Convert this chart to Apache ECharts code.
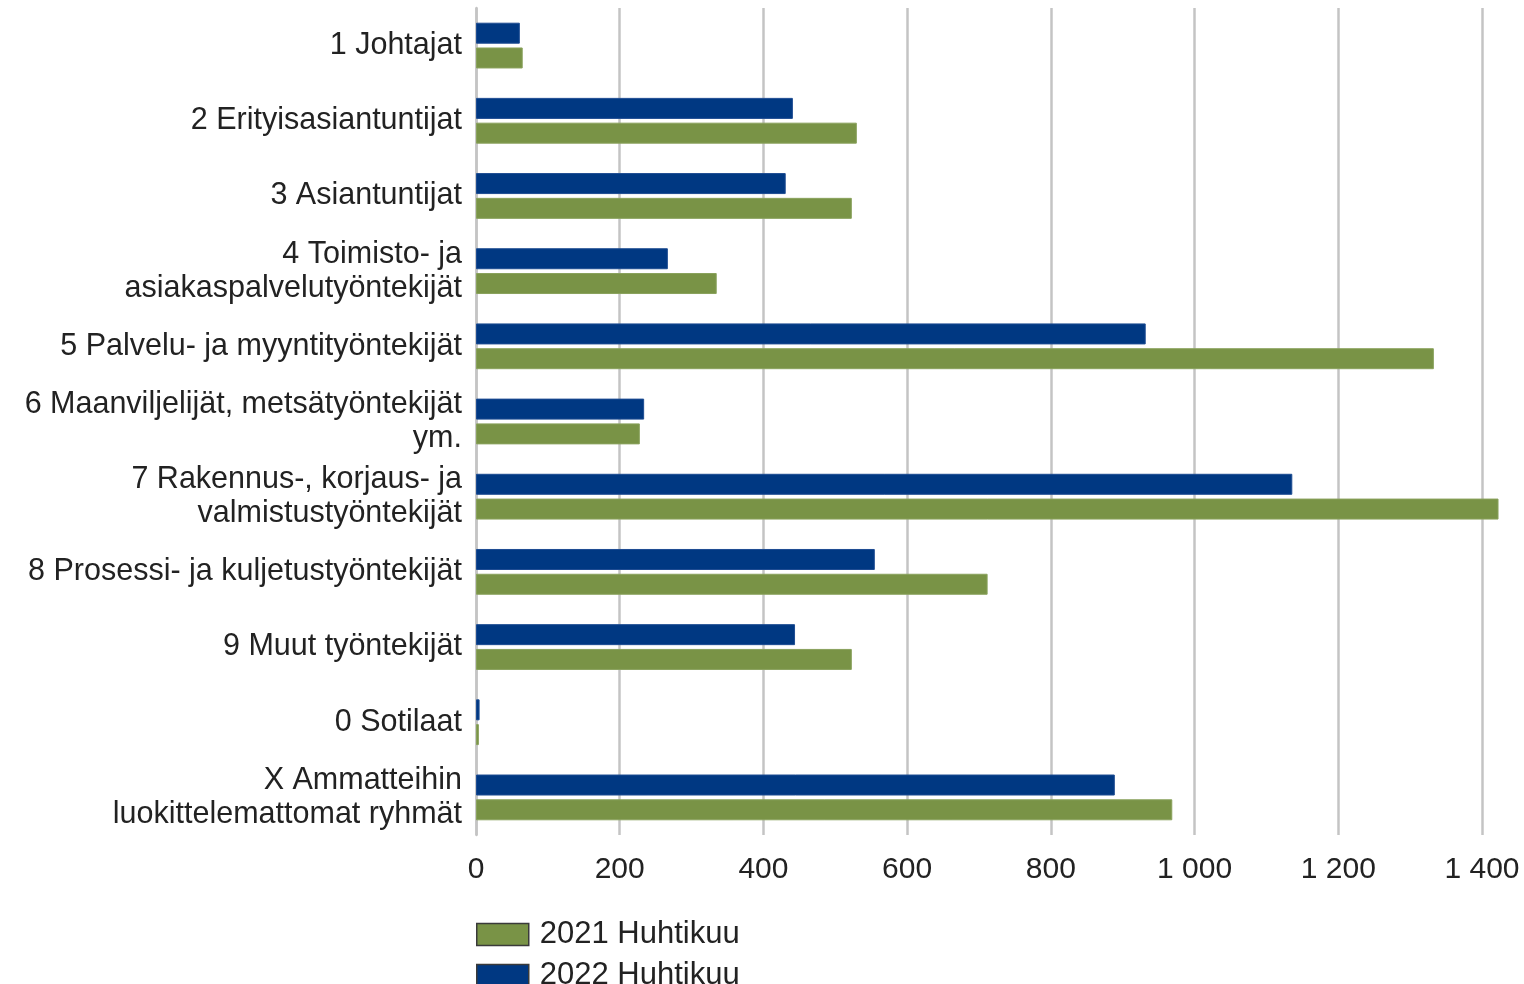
<!DOCTYPE html>
<html>
<head>
<meta charset="utf-8">
<title>Ammattiryhmät</title>
<script src="https://cdn.jsdelivr.net/npm/echarts@6/dist/echarts.min.js"></script>
<style>
  html, body { margin: 0; padding: 0; background: #fff; }
  #chart { width: 1524px; height: 984px; }
</style>
</head>
<body>
<div id="chart"></div>
<script>
// ammattiryhmät, ylhäältä alas
const categories = [
  "1 Johtajat",
  "2 Erityisasiantuntijat",
  "3 Asiantuntijat",
  "4 Toimisto- ja\nasiakaspalvelutyöntekijät",
  "5 Palvelu- ja myyntityöntekijät",
  "6 Maanviljelijät, metsätyöntekijät\nym.",
  "7 Rakennus-, korjaus- ja\nvalmistustyöntekijät",
  "8 Prosessi- ja kuljetustyöntekijät",
  "9 Muut työntekijät",
  "0 Sotilaat",
  "X Ammatteihin\nluokittelemattomat ryhmät"
];
const values2021 = [65, 530, 523, 335, 1333, 228, 1423, 712, 523, 4, 969];
const values2022 = [61, 441, 431, 267, 932, 234, 1136, 555, 444, 5, 889];
const seriesNames = ["2021 Huhtikuu", "2022 Huhtikuu"];

const chart = echarts.init(document.getElementById("chart"));

const fmt = v => String(v).replace(/\B(?=(\d{3})+(?!\d))/g, " ");

// yksi selite per sarja, jotta ne pysyvät allekkain
const legendBase = {
  left: 476,
  padding: 0,
  itemWidth: 52,
  itemHeight: 22,
  icon: "rect",
  itemStyle: { borderColor: "#3a3a3a", borderWidth: 1.5 },
  textStyle: { fontSize: 31, color: "#222", lineHeight: 22, padding: [0, 0, 0, 6] }
};

chart.setOption({
  animation: false,
  textStyle: { fontFamily: "Liberation Sans, Arial, sans-serif" },
  grid: { left: 476, right: 42, top: 8, bottom: 149 },
  legend: [
    Object.assign({}, legendBase, { top: 919, data: [seriesNames[0]] }),
    Object.assign({}, legendBase, { top: 960, data: [seriesNames[1]] })
  ],
  xAxis: {
    type: "value",
    min: 0,
    max: 1400,
    interval: 200,
    axisLine: { show: false },
    axisTick: { show: false },
    axisLabel: { fontSize: 30, color: "#222", margin: 20, formatter: fmt },
    splitLine: { lineStyle: { color: "#c4c4c4", width: 2.5 } }
  },
  yAxis: {
    type: "category",
    inverse: true,
    data: categories,
    axisLine: { lineStyle: { color: "#c4c4c4", width: 2.5 } },
    axisTick: { show: false },
    axisLabel: { fontSize: 30.5, color: "#222", margin: 14, lineHeight: 34, align: "right" }
  },
  series: [
    {
      name: seriesNames[1],
      type: "bar",
      data: values2022,
      barWidth: 21,
      barGap: "18%",
      clip: false,
      itemStyle: { color: "#003882", borderColor: "#1d4c92", borderWidth: 1 }
    },
    {
      name: seriesNames[0],
      type: "bar",
      data: values2021,
      barWidth: 21,
      barGap: "18%",
      clip: false,
      itemStyle: { color: "#799346", borderColor: "#8aa25d", borderWidth: 1 }
    }
  ]
});
</script>
</body>
</html>
